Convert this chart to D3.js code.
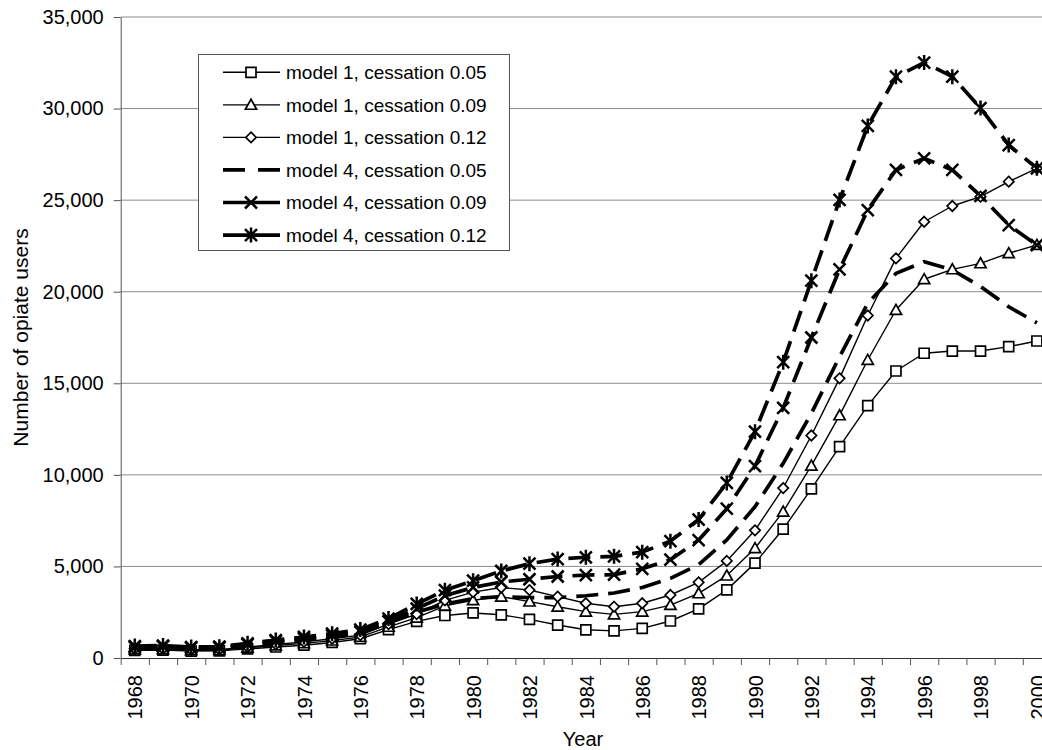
<!DOCTYPE html>
<html>
<head>
<meta charset="utf-8">
<script src="https://cdn.jsdelivr.net/npm/d3@7"></script>
<style>
  body { margin: 0; background: #fff; }
  svg { display: block; }
  text { font-family: "Liberation Sans", Arial, sans-serif; fill: #000; }
</style>
</head>
<body>
<div id="chart"></div>
<script>
// ---- data ----
var years = [1968, 1969, 1970, 1971, 1972, 1973, 1974, 1975, 1976, 1977, 1978,
             1979, 1980, 1981, 1982, 1983, 1984, 1985, 1986, 1987, 1988, 1989,
             1990, 1991, 1992, 1993, 1994, 1995, 1996, 1997, 1998, 1999, 2000];

var model1Cess005 = [420, 430, 380, 390, 500, 600, 700, 850, 1050, 1550, 2000,
                     2320, 2460, 2360, 2110, 1800, 1540, 1480, 1620, 2020, 2680, 3720,
                     5180, 7040, 9230, 11540, 13780, 15670, 16640, 16760, 16760, 17000, 17310];
var model1Cess009 = [470, 480, 420, 430, 560, 680, 800, 950, 1150, 1700, 2200,
                     2850, 3150, 3350, 3080, 2800, 2530, 2380, 2530, 2890, 3530, 4500,
                     5990, 7990, 10500, 13250, 16270, 19000, 20680, 21220, 21550, 22100, 22550];
var model1Cess012 = [500, 510, 450, 460, 600, 740, 880, 1050, 1250, 1850, 2400,
                     3150, 3600, 3850, 3710, 3350, 2990, 2800, 2990, 3440, 4130, 5300,
                     6970, 9280, 12150, 15270, 18700, 21820, 23820, 24680, 25190, 26010, 26740];
var model4Cess005 = [560, 580, 510, 520, 680, 840, 980, 1150, 1350, 1950, 2500,
                     2950, 3250, 3350, 3300, 3300, 3400, 3550, 3850, 4350, 5100, 6450,
                     8260, 10630, 13360, 16450, 19370, 21000, 21640, 21190, 20280, 19180, 18300];
var model4Cess009 = [600, 630, 560, 570, 740, 920, 1070, 1230, 1430, 2000, 2700,
                     3400, 3850, 4150, 4300, 4450, 4530, 4550, 4870, 5370, 6440, 8150,
                     10480, 13660, 17500, 21220, 24460, 26650, 27280, 26650, 25230, 23640, 22550];
var model4Cess012 = [650, 680, 600, 620, 800, 980, 1150, 1330, 1550, 2150, 2950,
                     3700, 4220, 4750, 5150, 5400, 5500, 5550, 5780, 6380, 7560, 9560,
                     12360, 16150, 20600, 25010, 29050, 31740, 32510, 31740, 30030, 28010, 26740];

var seriesNames = ['model 1, cessation 0.05', 'model 1, cessation 0.09', 'model 1, cessation 0.12',
                   'model 4, cessation 0.05', 'model 4, cessation 0.09', 'model 4, cessation 0.12'];
var seriesValues = [model1Cess005, model1Cess009, model1Cess012,
                    model4Cess005, model4Cess009, model4Cess012];
var yTicks = [0, 5000, 10000, 15000, 20000, 25000, 30000, 35000];
var xLabelYears = [1968, 1970, 1972, 1974, 1976, 1978, 1980, 1982, 1984,
                   1986, 1988, 1990, 1992, 1994, 1996, 1998, 2000];

// ---- layout ----
var svgW = 1042, svgH = 750;
var plotL = 120.7, plotR = 1051, plotT = 17, plotB = 658;

// marker + line style per series
var styles = [
  { marker: 'square',   width: 1.4, dash: null },
  { marker: 'triangle', width: 1.4, dash: null },
  { marker: 'diamond',  width: 1.4, dash: null },
  { marker: 'none',     width: 3.7, dash: '22,10' },
  { marker: 'x',        width: 3.7, dash: '22,10' },
  { marker: 'star',     width: 3.7, dash: '22,10' }
];

var markerPath = function (type) {
  switch (type) {
    case 'square':   return 'M-5,-5H5V5H-5Z';
    case 'triangle': return 'M0,-5.6L5.6,4.4H-5.6Z';
    case 'diamond':  return 'M0,-5.2L5.2,0L0,5.2L-5.2,0Z';
    case 'x':        return 'M-6,-6L6,6M6,-6L-6,6';
    case 'star':     return 'M-6,-6L6,6M6,-6L-6,6M0,-7.5L0,7.5';
  }
  return '';
};

var svg = d3.select('#chart').append('svg')
  .attr('width', svgW)
  .attr('height', svgH);

var x = d3.scaleLinear().domain([1967.5, 2000.5]).range([plotL, plotR]);
var y = d3.scaleLinear().domain([0, 35000]).range([plotB, plotT]);

// gridlines
svg.append('g').selectAll('line').data(yTicks.slice(1)).enter().append('line')
  .attr('x1', plotL).attr('x2', svgW)
  .attr('y1', function (d) { return y(d); })
  .attr('y2', function (d) { return y(d); })
  .attr('stroke', '#8c8c8c')
  .attr('stroke-width', 1);

// y axis
var yAxis = svg.append('g')
  .attr('transform', 'translate(' + plotL + ',0)')
  .call(d3.axisLeft(y).tickValues(yTicks).tickSize(7).tickSizeOuter(0)
    .tickPadding(10).tickFormat(d3.format(',')));
yAxis.attr('font-size', 20).attr('font-family', '"Liberation Sans", Arial, sans-serif');
yAxis.select('.domain').attr('stroke', '#555');
yAxis.selectAll('.tick line').attr('stroke', '#555');

// x axis: tick marks on category boundaries
var bounds = years.map(function (d) { return d - 0.5; }).concat([2000.5]);
var xTicks = svg.append('g')
  .attr('transform', 'translate(0,' + plotB + ')')
  .call(d3.axisBottom(x).tickValues(bounds).tickSize(7).tickSizeOuter(0).tickFormat(''));
xTicks.select('.domain').attr('stroke', '#333');
xTicks.selectAll('.tick line').attr('stroke', '#555');

// x axis labels, rotated
var xLabels = svg.append('g')
  .attr('transform', 'translate(0,' + plotB + ')')
  .call(d3.axisBottom(x).tickValues(xLabelYears).tickSize(0).tickFormat(d3.format('d')));
xLabels.attr('font-size', 20).attr('font-family', '"Liberation Sans", Arial, sans-serif');
xLabels.select('.domain').remove();
xLabels.selectAll('text')
  .attr('transform', 'rotate(-90)')
  .attr('x', -17)
  .attr('y', 0)
  .attr('dy', '0.36em')
  .style('text-anchor', 'end');

// axis titles
svg.append('text')
  .attr('x', 583).attr('y', 746)
  .attr('text-anchor', 'middle')
  .style('font-size', '20px')
  .text('Year');
svg.append('text')
  .attr('transform', 'translate(28,337.5) rotate(-90)')
  .attr('text-anchor', 'middle')
  .style('font-size', '21px')
  .text('Number of opiate users');

// series lines
var line = d3.line()
  .x(function (d, i) { return x(years[i]); })
  .y(function (d) { return y(d); });

var plot = svg.append('g');
seriesValues.forEach(function (vals, s) {
  var st = styles[s];
  plot.append('path')
    .datum(vals)
    .attr('d', line)
    .attr('fill', 'none')
    .attr('stroke', '#000')
    .attr('stroke-width', st.width)
    .attr('stroke-dasharray', st.dash)
    .attr('stroke-linejoin', 'round');
});

// markers on top
seriesValues.forEach(function (vals, s) {
  var st = styles[s];
  if (st.marker === 'none') return;
  var open = (st.marker === 'square' || st.marker === 'triangle' || st.marker === 'diamond');
  plot.append('g').selectAll('path').data(vals).enter().append('path')
    .attr('transform', function (d, i) { return 'translate(' + x(years[i]) + ',' + y(d) + ')'; })
    .attr('d', markerPath(st.marker))
    .attr('fill', open ? '#fff' : 'none')
    .attr('stroke', '#000')
    .attr('stroke-width', open ? 1.7 : 2.5);
});

// legend
var legend = svg.append('g');
legend.append('rect')
  .attr('x', 198.5).attr('y', 54.5)
  .attr('width', 311).attr('height', 196)
  .attr('fill', '#fff')
  .attr('stroke', '#555')
  .attr('stroke-width', 1);

var rows = legend.selectAll('g.row').data(seriesNames).enter().append('g')
  .attr('class', 'row')
  .attr('transform', function (d, i) { return 'translate(0,' + (72.3 + i * 32.55) + ')'; });

rows.append('line')
  .attr('x1', 223).attr('x2', 280)
  .attr('y1', 0).attr('y2', 0)
  .attr('stroke', '#000')
  .attr('stroke-width', function (d, i) { return styles[i].width; })
  .attr('stroke-dasharray', function (d, i) { return i === 3 ? '22,13' : null; });

rows.append('path')
  .attr('transform', 'translate(251,0)')
  .attr('d', function (d, i) { return markerPath(styles[i].marker); })
  .attr('fill', function (d, i) { return i < 3 ? '#fff' : 'none'; })
  .attr('stroke', '#000')
  .attr('stroke-width', function (d, i) { return i < 3 ? 1.7 : 2.5; });

rows.append('text')
  .attr('x', 286).attr('y', 0).attr('dy', '0.36em')
  .style('font-size', '19px')
  .text(function (d) { return d; });
</script>
</body>
</html>
